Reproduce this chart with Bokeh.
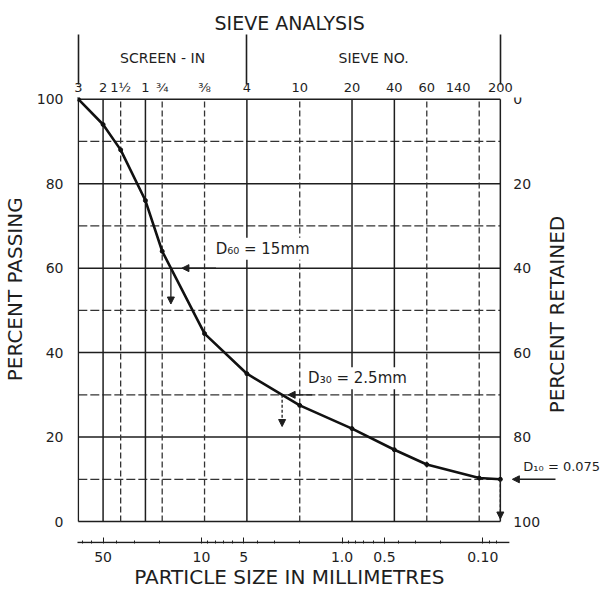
import math
from bokeh.plotting import figure
from bokeh.models import Range1d, LogAxis, LinearAxis, FixedTicker, Arrow, NormalHead, Label
from bokeh.core.properties import value
from bokeh.embed import file_html
from bokeh.resources import INLINE

# ---- data -------------------------------------------------------------
sieve_mm = [75, 50, 37.5, 25, 19, 9.5, 4.75, 2.0, 0.85, 0.425, 0.25, 0.106, 0.075]
sieve_names = ["3", "2", "1½", "1", "¾", "⅜", "4", "10", "20", "40", "60", "140", "200"]
sieve_solid = [True, True, False, True, False, False, True, False, True, True, False, False, True]
percent_passing = [100, 94, 88, 76, 64, 44.5, 35, 27.5, 22, 17, 13.5, 10.3, 10]

size_ticks = [50, 10, 5, 1.0, 0.5, 0.1]
size_tick_labels = ["50", "10", "5", "1.0", "0.5", "0.10"]
size_minor = [70, 60, 40, 30, 20, 9, 8, 7, 6, 4, 3, 2, 0.9, 0.8, 0.7, 0.6, 0.4, 0.3, 0.2, 0.09, 0.08]

pct_ticks = [0, 20, 40, 60, 80, 100]
pct_grid = [0, 10, 20, 30, 40, 50, 60, 70, 80, 90, 100]

group_names = ["SCREEN - IN", "SIEVE NO."]
group_bounds = [75, 4.75, 0.075]

d_names = ["D₆₀ = 15mm", "D₃₀ = 2.5mm", "D₁₀ = 0.075"]
d_values = [15, 2.5, 0.075]
d_pct = [60, 30, 10]

FONT = "DejaVu Sans"
INK = "#1e1e1e"

# ---- geometry ---------------------------------------------------------
W, H = 600, 591
ML, MR, MT, MB = 71, 0, 91, 30
RIGHT_PAD = 7.4                     # space Bokeh keeps at the right edge
PX_DEC = 140.3                      # pixels per decade of particle size
X_START = 76.0
X_END = X_START / 10 ** ((W - ML - MR - RIGHT_PAD) / PX_DEC)
Y_START, Y_END = -5.2, 100.4
AXIS_Y = -4.95
# horizontal nudge (px) of the sieve-name labels; "140" sits left of its line
name_nudge = [0, 0, 0, 0, 0, 0, 0, 0, 0, 0, 0, -21, 0]


def size_at(pct):
    pts = list(zip(sieve_mm, percent_passing))
    for (s0, p0), (s1, p1) in zip(pts, pts[1:]):
        if p0 != p1 and (p0 - pct) * (p1 - pct) <= 0:
            f = (p0 - pct) / (p0 - p1)
            return 10 ** (math.log10(s0) + f * (math.log10(s1) - math.log10(s0)))
    return sieve_mm[-1]


def shift(size, px):
    return size * 10 ** (-px / PX_DEC)


# ---- figure -----------------------------------------------------------
p = figure(width=W, height=H, x_axis_type="log",
           x_range=Range1d(X_START, X_END), y_range=Range1d(Y_START, Y_END),
           output_backend="svg", toolbar_location=None,
           min_border_left=ML, min_border_right=MR, min_border_top=MT, min_border_bottom=MB)
p.outline_line_color = None
p.xgrid.visible = False
p.ygrid.visible = False
p.background_fill_color = "white"
p.border_fill_color = "white"

p.title.text = "SIEVE ANALYSIS"
p.title.align = "left"
p.title.vertical_align = "top"
p.title.offset = 137
p.title.text_font = FONT
p.title.text_font_size = "19px"
p.title.text_font_style = "normal"
p.title.text_color = INK
p.title.standoff = 22

# bottom axis (particle size)
xb = p.xaxis[0]
xb.ticker = FixedTicker(ticks=size_ticks, minor_ticks=size_minor)
xb.major_label_overrides = dict(zip(size_ticks, size_tick_labels))
xb.axis_line_color = None
xb.major_tick_in = 6
xb.major_tick_out = 0
xb.minor_tick_in = 3
xb.minor_tick_out = 0
xb.major_tick_line_color = INK
xb.minor_tick_line_color = INK
xb.major_label_standoff = 8
xb.major_label_text_font = FONT
xb.major_label_text_font_size = "14px"
xb.major_label_text_color = INK

# bottom title, centred on the chart (not on the wider frame)
chart_centre = math.sqrt(sieve_mm[0] * sieve_mm[-1])
xt = LogAxis(ticker=FixedTicker(ticks=[chart_centre], minor_ticks=[]),
             major_label_overrides={chart_centre: "PARTICLE SIZE IN MILLIMETRES"},
             axis_line_color=None, major_tick_line_color=None, minor_tick_line_color=None,
             major_tick_in=0, major_tick_out=0, major_label_standoff=0,
             major_label_text_font=FONT, major_label_text_font_size="20px",
             major_label_text_color=INK)
p.add_layout(xt, "below")

# left axis (percent passing)
yl = p.yaxis[0]
yl.ticker = FixedTicker(ticks=pct_ticks, minor_ticks=[])
yl.axis_line_color = None
yl.major_tick_line_color = None
yl.minor_tick_line_color = None
yl.major_label_standoff = 8
yl.major_label_text_font = FONT
yl.major_label_text_font_size = "14px"
yl.major_label_text_color = INK

yt = LinearAxis(ticker=FixedTicker(ticks=[55], minor_ticks=[]),
                major_label_overrides={55: "PERCENT PASSING"},
                major_label_orientation="vertical",
                axis_line_color=None, major_tick_line_color=None, minor_tick_line_color=None,
                major_tick_in=0, major_tick_out=0, major_label_standoff=6,
                major_label_text_font=FONT, major_label_text_font_size="20px",
                major_label_text_color=INK)
p.add_layout(yt, "left")

# top axis: sieve names
name_pos = [shift(s, n) for s, n in zip(sieve_mm, name_nudge)]
ta = LogAxis(ticker=FixedTicker(ticks=name_pos, minor_ticks=[]),
             major_label_overrides=dict(zip(name_pos, sieve_names)),
             axis_line_color=None, major_tick_line_color=None, minor_tick_line_color=None,
             major_tick_in=0, major_tick_out=0, major_label_standoff=3,
             major_label_text_font=FONT, major_label_text_font_size="13px",
             major_label_text_color=INK)
p.add_layout(ta, "above")

# top axis: groups with separator bars
group_centers = [math.sqrt(a * b) for a, b in zip(group_bounds, group_bounds[1:])]
tb = LogAxis(ticker=FixedTicker(ticks=group_centers, minor_ticks=group_bounds),
             major_label_overrides=dict(zip(group_centers, group_names)),
             axis_line_color=None, major_tick_line_color=None,
             major_tick_in=0, major_tick_out=0,
             minor_tick_in=-42, minor_tick_out=-8, minor_tick_line_color=INK,
             minor_tick_line_width=1.6, major_label_standoff=11,
             major_label_text_font=FONT, major_label_text_font_size="14px",
             major_label_text_color=INK)
p.add_layout(tb, "above")

# ---- grid -------------------------------------------------------------
solid_y = [v for v in pct_grid if v % 20 == 0]
dash_y = [v for v in pct_grid if v % 20 != 0]
p.segment(x0=[sieve_mm[0]] * len(solid_y), x1=[sieve_mm[-1]] * len(solid_y), y0=solid_y, y1=solid_y,
          line_color=INK, line_width=1.5)
p.segment(x0=[sieve_mm[0]] * len(dash_y), x1=[sieve_mm[-1]] * len(dash_y), y0=dash_y, y1=dash_y,
          line_color="#333333", line_width=1.3, line_dash="9 3")
sx = [s for s, k in zip(sieve_mm, sieve_solid) if k]
dx = [s for s, k in zip(sieve_mm, sieve_solid) if not k]
p.segment(x0=sx, x1=sx, y0=[0] * len(sx), y1=[100] * len(sx), line_color=INK, line_width=1.5)
p.segment(x0=dx, x1=dx, y0=[0] * len(dx), y1=[100] * len(dx), line_color="#333333",
          line_width=1.3, line_dash="6 3")

# particle-size scale line below the chart
p.segment(x0=[shift(sieve_mm[0], -2)], x1=[shift(sieve_mm[-1], 9)], y0=[AXIS_Y], y1=[AXIS_Y],
          line_color=INK, line_width=1.5)

# percent retained scale on the right
p.text(x=[sieve_mm[-1]] * len(pct_ticks), y=[100 - v for v in pct_ticks],
       text=[str(v) for v in pct_ticks], x_offset=13, text_align="left", text_baseline="middle",
       text_font=value(FONT), text_font_size="14px", text_color=INK)
p.text(x=[sieve_mm[-1]], y=[49], text=["PERCENT RETAINED"], x_offset=57, angle=math.pi / 2,
       text_align="center", text_baseline="middle",
       text_font=value(FONT), text_font_size="20px", text_color=INK)

# ---- grading curve ----------------------------------------------------
p.line(sieve_mm, percent_passing, line_color="#111111", line_width=2.6)
p.scatter(sieve_mm, percent_passing, size=4, color="#111111")

# ---- D60 / D30 / D10 annotations -------------------------------------
d_sizes = [size_at(v) for v in d_pct]


def head():
    return NormalHead(size=7, fill_color=INK, line_color=INK, line_width=1)


# D60
p.add_layout(Arrow(end=head(), x_start=shift(d_sizes[0], 45), y_start=d_pct[0],
                   x_end=shift(d_sizes[0], 11), y_end=d_pct[0], line_color=INK, line_width=1.3))
p.add_layout(Arrow(end=head(), x_start=d_sizes[0], y_start=d_pct[0],
                   x_end=d_sizes[0], y_end=d_pct[0] - 8.5, line_color=INK, line_width=1.3))
# D30
p.add_layout(Arrow(end=head(), x_start=shift(d_sizes[1], 30), y_start=d_pct[1],
                   x_end=shift(d_sizes[1], 6), y_end=d_pct[1], line_color=INK, line_width=1.3))
p.add_layout(Arrow(end=head(), x_start=d_sizes[1], y_start=d_pct[1],
                   x_end=d_sizes[1], y_end=d_pct[1] - 7.5, line_color=INK, line_width=1.3,
                   line_dash="3 2"))
# D10
p.add_layout(Arrow(end=head(), x_start=shift(d_sizes[2], 55), y_start=d_pct[2],
                   x_end=shift(d_sizes[2], 12), y_end=d_pct[2], line_color=INK, line_width=1.5))
p.add_layout(Arrow(end=head(), x_start=d_sizes[2], y_start=d_pct[2],
                   x_end=d_sizes[2], y_end=0.6, line_color=INK, line_width=1.3, line_dash="3 2"))

label_dx = [37, 20, 21]
label_dy = [4.6, 3.9, 3.1]
label_fs = ["15px", "15px", "13px"]
for name, s, v, dxp, dyv, fs in zip(d_names, d_values, d_pct, label_dx, label_dy, label_fs):
    p.add_layout(Label(x=s, y=v + dyv, x_offset=dxp, text=name, text_baseline="middle",
                       text_font=FONT, text_font_size=fs, text_color=INK,
                       background_fill_color="white", padding=2))

open("out.html", "w").write(file_html(p, INLINE))
